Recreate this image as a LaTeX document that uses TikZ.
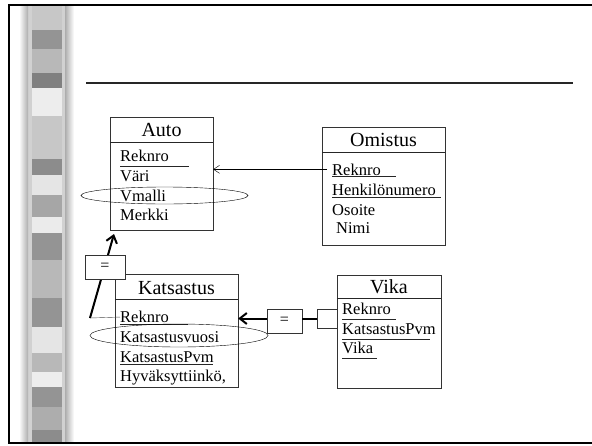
\documentclass[tikz,border=0pt]{standalone}
\usepackage{fontspec}
\setmainfont{Liberation Serif}
\usetikzlibrary{positioning}
\usetikzlibrary{arrows.meta}
\usetikzlibrary{shapes.geometric}
\tikzset{%
  ent/.style = {rectangle,draw=black!80,thin,minimum width=103pt,
        minimum height=113pt},
  ttl/.style = {anchor=base,inner sep=0pt,font=\fontsize{20}{22}\selectfont},
  attr/.style = {anchor=base west,inner sep=0pt,font=\fontsize{16.5}{19}\selectfont},
  keyline/.style = {draw=black!85,thin},
  eqbox/.style = {rectangle,draw=black!80,fill=white,thin,inner sep=0pt,
        font=\fontsize{16}{18}\selectfont},
  sel/.style = {ellipse,draw,thin,inner sep=0pt},
  thinarrow/.style = {-{Straight Barb[length=6pt,width=8pt]},thin},
  thickarrow/.style = {-{Straight Barb[length=7pt,width=11pt]},line width=2pt}
}
\begin{document}
\begin{tikzpicture}[x=1pt,y=-1pt]
    \useasboundingbox (0,0) rectangle (592,445);
    % left stripe
    \fill[black!18] (27,5) rectangle (66,443);
    \shade[left color=white,right color=black!32] (19,5) rectangle (28,443);
    \shade[left color=black!32,right color=white] (65,5) rectangle (74,443);
    \foreach \ya/\yb/\g in {5/30/22, 30/49/42, 49/73/28, 73/88/50, 88/116/7,
            116/159/22, 159/175/45, 175/195/10, 195/217/35, 217/233/8,
            233/260/42, 260/298/28, 298/327/42, 327/353/10, 353/372/28,
            372/387/7, 387/407/42, 407/430/32, 430/443/45}
        \fill[black!\g] (32,\ya) rectangle (62,\yb);
    % frame
    \draw[line width=2pt] (592,5) -- (9,5) -- (9,443) -- (592,443);
    \draw[line width=1.8pt,black!85] (86,82.7) -- (573,82.7);

    % Auto
    \node[ent] (auto) at (161.5,173.5) {};
    \draw[keyline] (auto.west |- 0,142) -- (auto.east |- 0,142);
    \node[ttl] (autot) at (161.5,136.7) {Auto};
    \node[attr] (areknro) at (120,161.5) {Reknro};
    \node[attr] (avari) at (120,181) {Väri};
    \node[attr] (avmalli) at (120,201) {Vmalli};
    \node[attr] (amerkki) at (120,220.5) {Merkki};
    \draw[keyline] (areknro.base west) ++(0,4.5) -- ++(69,0);
    \node[sel,minimum width=167pt,minimum height=17pt] (asel) at (164.5,195.5) {};

    % Omistus
    \node[ent,minimum width=123pt,minimum height=118pt] (omistus) at (383.5,186) {};
    \draw[keyline] (omistus.west |- 0,152) -- (omistus.east |- 0,152);
    \node[ttl] (omistust) at (383.5,146) {Omistus};
    \node[attr] (oreknro) at (332,175) {Reknro};
    \node[attr] (ohenk) at (332,195) {Henkilönumero};
    \node[attr] (oosoite) at (332,215) {Osoite};
    \node[attr] (onimi) at (336,233) {Nimi};
    \draw[keyline] (oreknro.base west) ++(0,1.5) -- ++(64,0);
    \draw[keyline] (ohenk.base west) ++(0,1.7) -- ++(109,0);

    % Katsastus
    \node[ent,minimum width=123pt] (kats) at (176.5,330.5) {};
    \draw[keyline] (kats.west |- 0,299) -- (kats.east |- 0,299);
    \node[ttl] (katst) at (176.5,294) {Katsastus};
    \node[attr] (kreknro) at (120,322.7) {Reknro};
    \node[attr] (kvuosi) at (120,342.7) {Katsastusvuosi};
    \node[attr] (kpvm) at (120,362.7) {KatsastusPvm};
    \node[attr] (khyv) at (120,381.7) {Hyväksyttiinkö,};
    \draw[keyline] (kreknro.base west) ++(0,1.5) -- ++(68,0);
    \draw[keyline] (kpvm.base west) ++(0,1.5) -- ++(93,0);
    \node[sel,minimum width=178pt,minimum height=23pt] (ksel) at (179,335.5) {};

    % Vika
    \node[ent,minimum width=104pt] (vika) at (389,331.5) {};
    \draw[keyline] (vika.west |- 0,298) -- (vika.east |- 0,298);
    \node[ttl] (vikat) at (389,293) {Vika};
    \node[attr] (vreknro) at (342,314) {Reknro};
    \node[attr] (vpvm) at (342,334) {KatsastusPvm};
    \node[attr] (vvika) at (342,353) {Vika};
    \draw[keyline] (vreknro.base west) ++(0,5) -- ++(54,0);
    \draw[keyline] (vpvm.base west) ++(0,5) -- ++(88,0);
    \draw[keyline] (vvika.base west) ++(0,5) -- ++(35,0);

    % connectors
    \draw[thinarrow] ([xshift=-5pt]oreknro.west) -- (oreknro.west -| auto.east);

    \coordinate (kcorner) at (90,318);
    \coordinate (ktip) at (114,234);
    \draw[thin,black!70] (kreknro.west) -- (kcorner);
    \draw[thickarrow] (kcorner) -- (ktip);
    \node[eqbox,minimum width=40pt,minimum height=24pt] (eqa) at (105,267) {=};

    \node[eqbox,minimum width=20pt,minimum height=19pt] (vsq) at (327,318.5) {};
    \node[eqbox,minimum width=35pt,minimum height=24pt] (eqb) at (284.5,321) {=};
    \draw[line width=2pt] (vsq.west) -- (vsq.west -| eqb.east);
    \draw[thickarrow] (vsq.west -| eqb.west) -- (vsq.west -| kats.east);
\end{tikzpicture}
\end{document}
